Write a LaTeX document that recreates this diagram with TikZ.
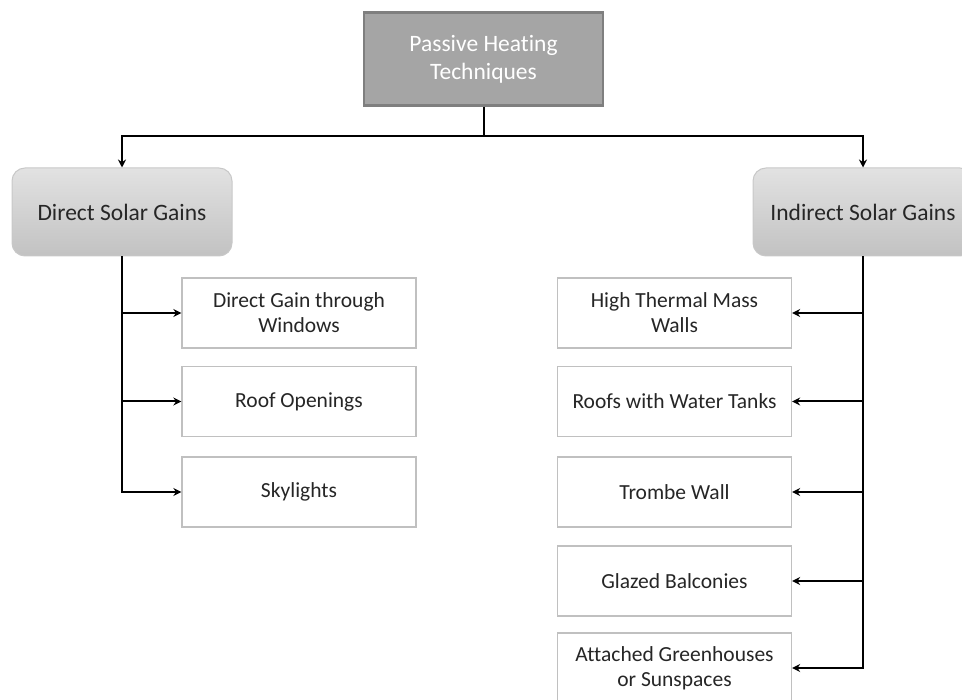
\documentclass[tikz,border=0pt]{standalone}
\usepackage{fontspec}
\setmainfont{Carlito}[Ligatures=NoCommon]
\usetikzlibrary{arrows.meta}
\definecolor{topfill}{HTML}{A5A5A5}
\definecolor{topborder}{HTML}{7F7F7F}
\definecolor{childborder}{HTML}{C0C0C0}
\definecolor{grpborder}{HTML}{C8C8C8}
\definecolor{grptop}{HTML}{E2E2E2}
\definecolor{grpbot}{HTML}{C2C2C2}
\definecolor{txt}{HTML}{262626}
\begin{document}
\begin{tikzpicture}[x=1pt,y=-1pt,
  topbox/.style={draw=topborder,line width=2.5pt,fill=topfill,text=white,
    minimum width=239pt,minimum height=93pt,align=center,inner sep=0pt,
    font=\fontsize{23.5}{28}\selectfont},
  grpbox/.style={draw=grpborder,line width=1pt,top color=grptop,bottom color=grpbot,
    rounded corners=13pt,minimum width=220pt,minimum height=88pt,align=center,
    inner sep=0pt,text=txt,font=\fontsize{23.5}{28}\selectfont},
  childbox/.style={draw=childborder,line width=1.3pt,fill=white,
    minimum width=234pt,minimum height=70pt,align=center,inner sep=0pt,
    text=txt,font=\fontsize{21.5}{25}\selectfont},
  conn/.style={line width=2pt,black},
  arr/.style={conn,-{Stealth[length=8pt,width=8pt]}}]
\useasboundingbox (0,0) rectangle (962,700);
\clip (0,0) rectangle (962,700);

\node[topbox] (top) at (483.5,59) {Passive Heating\\Techniques};
\node[grpbox] (direct) at (122,212) {Direct Solar Gains};
\node[grpbox] (indirect) at (863,212) {Indirect Solar Gains};

\node[childbox] (l1) at (299,313) {Direct Gain through\\Windows};
\node[childbox] (l2) at (299,401.5) {Roof Openings};
\node[childbox] (l3) at (299,492) {Skylights};

\node[childbox] (r1) at (674.5,313) {High Thermal Mass\\Walls};
\node[childbox] (r2) at (674.5,401.5) {Roofs with Water Tanks};
\node[childbox] (r3) at (674.5,492) {Trombe Wall};
\node[childbox] (r4) at (674.5,581) {Glazed Balconies};
\node[childbox] (r5) at (674.5,668) {Attached Greenhouses\\or Sunspaces};

\coordinate (bus) at (483.5,136);
\draw[conn] (top.south) -- (bus);
\draw[arr] (bus) -| (direct.north);
\draw[arr] (bus) -| (indirect.north);

\foreach \n in {l1,l2,l3}{\draw[arr] (direct.south) |- (\n.west);}
\foreach \n in {r1,r2,r3,r4,r5}{\draw[arr] (indirect.south) |- (\n.east);}
\end{tikzpicture}
\end{document}
